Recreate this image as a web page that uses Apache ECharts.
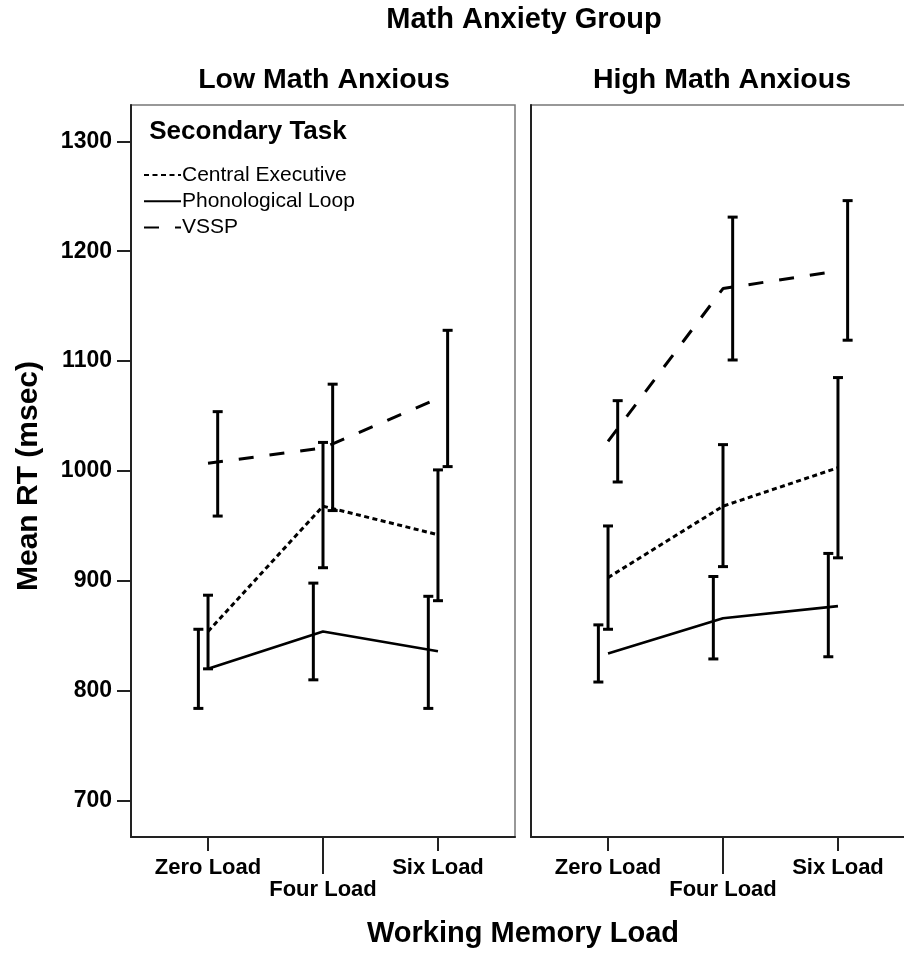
<!DOCTYPE html>
<html>
<head>
<meta charset="utf-8">
<script src="https://cdn.jsdelivr.net/npm/echarts@6/dist/echarts.min.js"></script>
<style>html,body{margin:0;padding:0;background:#fff;}#c{width:904px;height:953px;}</style>
</head>
<body>
<div id="c"></div>
<script>
const categories = ['Zero Load', 'Four Load', 'Six Load'];
const seriesNames = ['Central Executive', 'Phonological Loop', 'VSSP'];
const yTicks = [700, 800, 900, 1000, 1100, 1200, 1300];

// Low Math Anxious
const lowCEMean = [854, 968, 942];
const lowCELow  = [820, 912, 882];
const lowCEHigh = [887, 1026, 1001];
const lowPLMean = [820, 854, 836];
const lowPLLow  = [784, 810, 784];
const lowPLHigh = [856, 898, 886];
const lowVSMean = [1007, 1021, 1066];
const lowVSLow  = [959, 964, 1004];
const lowVSHigh = [1054, 1079, 1128];

// High Math Anxious
const highCEMean = [903, 968, 1003];
const highCELow  = [856, 913, 921];
const highCEHigh = [950, 1024, 1085];
const highPLMean = [834, 866, 877];
const highPLLow  = [808, 829, 831];
const highPLHigh = [860, 904, 925];
const highVSMean = [1027, 1166, 1182];
const highVSLow  = [990, 1101, 1119];
const highVSHigh = [1064, 1231, 1246];

const FONT = "'Liberation Sans', Arial, sans-serif";
const lineTypes = [[5, 3.5], 'solid', [15, 16]];
const lineWidths = [3, 2.7, 3];
const dodge = [0, -0.084, 0.084];

const panels = [
  {mean: [lowCEMean, lowPLMean, lowVSMean], lo: [lowCELow, lowPLLow, lowVSLow], hi: [lowCEHigh, lowPLHigh, lowVSHigh]},
  {mean: [highCEMean, highPLMean, highVSMean], lo: [highCELow, highPLLow, highVSLow], hi: [highCEHigh, highPLHigh, highVSHigh]}
];

const grids = [
  {left: 131, width: 384, top: 105, bottom: 116, show: true, borderColor: '#777', borderWidth: 1.5, outerBoundsMode: 'none', containLabel: false},
  {left: 531, width: 384, top: 105, bottom: 116, show: true, borderColor: '#777', borderWidth: 1.5, outerBoundsMode: 'none', containLabel: false}
];

const xAxes = [];
const yAxes = [];
const series = [];
const labelStyle = {fontFamily: FONT, fontWeight: 'bold', fontSize: 22, color: '#000'};

for (let g = 0; g < 2; g++) {
  xAxes.push({
    type: 'value', gridIndex: g, min: 0.33, max: 3.67, position: 'bottom',
    splitLine: {show: false},
    axisLine: {show: true, onZero: false, lineStyle: {color: '#222', width: 2}},
    axisTick: {show: true, length: 14, customValues: [1, 3], lineStyle: {color: '#222', width: 2}},
    axisLabel: Object.assign({show: true, margin: 20, customValues: [1, 3],
      formatter: v => categories[Math.round(v) - 1]}, labelStyle)
  });
  xAxes.push({
    type: 'value', gridIndex: g, min: 0.33, max: 3.67, position: 'bottom',
    splitLine: {show: false},
    axisLine: {show: false, onZero: false},
    axisTick: {show: true, length: 37, customValues: [2], lineStyle: {color: '#222', width: 2}},
    axisLabel: Object.assign({show: true, margin: 42, customValues: [2],
      formatter: v => categories[Math.round(v) - 1]}, labelStyle)
  });
  yAxes.push({
    type: 'value', gridIndex: g, min: 667, max: 1333,
    splitLine: {show: false},
    axisLine: {show: true, lineStyle: {color: '#222', width: 2}},
    axisTick: {show: g === 0, length: 14, customValues: yTicks, lineStyle: {color: '#222', width: 2}},
    axisLabel: {show: g === 0, margin: 19, customValues: yTicks, formatter: v => String(v),
      fontFamily: FONT, fontWeight: 'bold', fontSize: 23, color: '#000'}
  });

  const p = panels[g];
  for (let s = 0; s < 3; s++) {
    series.push({
      type: 'line', name: seriesNames[s], xAxisIndex: g * 2, yAxisIndex: g,
      symbol: 'none', silent: true, animation: false,
      lineStyle: {color: '#000', width: lineWidths[s], type: lineTypes[s], cap: 'butt'},
      itemStyle: {color: '#000'},
      data: p.mean[s].map((m, i) => [i + 1, m])
    });
  }
  for (let s = 0; s < 3; s++) {
    const off = dodge[s];
    series.push({
      type: 'custom', xAxisIndex: g * 2, yAxisIndex: g, silent: true, animation: false,
      data: p.lo[s].map((l, i) => [i + 1, l, p.hi[s][i]]),
      renderItem: function (params, api) {
        const x = api.value(0) + off;
        const a = api.coord([x, api.value(1)]);
        const b = api.coord([x, api.value(2)]);
        const hw = 5;
        const st = {stroke: '#000', lineWidth: 3};
        return {type: 'group', children: [
          {type: 'line', shape: {x1: a[0], y1: a[1], x2: b[0], y2: b[1]}, style: st},
          {type: 'line', shape: {x1: a[0] - hw, y1: a[1], x2: a[0] + hw, y2: a[1]}, style: st},
          {type: 'line', shape: {x1: b[0] - hw, y1: b[1], x2: b[0] + hw, y2: b[1]}, style: st}
        ]};
      }
    });
  }
}

const chart = echarts.init(document.getElementById('c'), null, {renderer: 'canvas'});
chart.setOption({
  animation: false,
  backgroundColor: '#fff',
  grid: grids,
  xAxis: xAxes,
  yAxis: yAxes,
  legend: {
    data: seriesNames, orient: 'vertical', left: 138, top: 159,
    itemWidth: 37, itemHeight: 10, itemGap: 4.3, selectedMode: false,
    itemStyle: {opacity: 0},
    textStyle: {fontFamily: FONT, fontSize: 21, color: '#000', lineHeight: 22, padding: [0, 0, 0, -4]}
  },
  graphic: [
    {type: 'text', x: 524, y: 20, style: {text: 'Math Anxiety Group', font: "bold 29px 'Liberation Sans', Arial", fill: '#000', textAlign: 'center', textVerticalAlign: 'middle'}},
    {type: 'text', x: 324, y: 80, style: {text: 'Low Math Anxious', font: "bold 28.5px 'Liberation Sans', Arial", fill: '#000', textAlign: 'center', textVerticalAlign: 'middle'}},
    {type: 'text', x: 722, y: 80, style: {text: 'High Math Anxious', font: "bold 28.5px 'Liberation Sans', Arial", fill: '#000', textAlign: 'center', textVerticalAlign: 'middle'}},
    {type: 'text', x: 248, y: 132, style: {text: 'Secondary Task', font: "bold 26px 'Liberation Sans', Arial", fill: '#000', textAlign: 'center', textVerticalAlign: 'middle'}},
    {type: 'text', x: 523, y: 934, style: {text: 'Working Memory Load', font: "bold 29px 'Liberation Sans', Arial", fill: '#000', textAlign: 'center', textVerticalAlign: 'middle'}},
    {type: 'text', x: 29, y: 476, rotation: Math.PI / 2, style: {text: 'Mean RT (msec)', font: "bold 30px 'Liberation Sans', Arial", fill: '#000', textAlign: 'center', textVerticalAlign: 'middle'}}
  ],
  series: series
});
</script>
</body>
</html>
